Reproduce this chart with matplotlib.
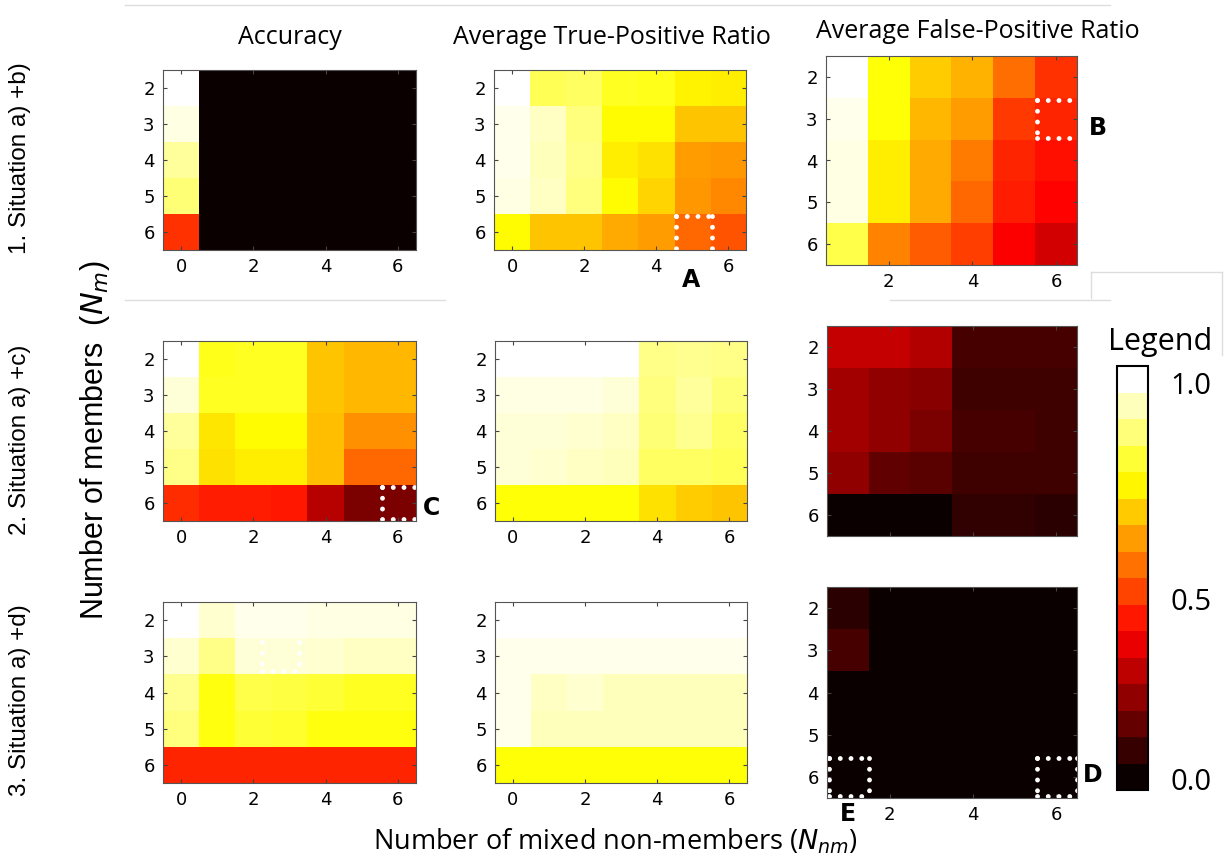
import numpy as np
import matplotlib
matplotlib.use("Agg")
import matplotlib.pyplot as plt
from matplotlib.lines import Line2D
import matplotlib.cm as cm
from matplotlib.colors import Normalize

# axis values
members = [2, 3, 4, 5, 6]
nonmembers = [0, 1, 2, 3, 4, 5, 6]
nonmembers_fp = [1, 2, 3, 4, 5, 6]

col_titles = ["Accuracy", "Average True-Positive Ratio", "Average False-Positive Ratio"]
row_titles = ["1. Situation a) +b)", "2. Situation a) +c)", "3. Situation a) +d)"]

# situation 1
acc_1 = [[1.00, 0, 0, 0, 0, 0, 0],
         [0.97, 0, 0, 0, 0, 0, 0],
         [0.90, 0, 0, 0, 0, 0, 0],
         [0.86, 0, 0, 0, 0, 0, 0],
         [0.44, 0, 0, 0, 0, 0, 0]]
tpr_1 = [[1.00, 0.83, 0.84, 0.78, 0.77, 0.73, 0.72],
         [0.98, 0.94, 0.87, 0.74, 0.74, 0.66, 0.66],
         [0.98, 0.93, 0.88, 0.72, 0.70, 0.60, 0.59],
         [0.97, 0.94, 0.87, 0.74, 0.68, 0.59, 0.57],
         [0.74, 0.66, 0.66, 0.62, 0.60, 0.52, 0.49]]
fpr_1 = [[1.00, 0.75, 0.67, 0.63, 0.53, 0.44],
         [0.98, 0.75, 0.64, 0.60, 0.45, 0.42],
         [0.97, 0.72, 0.62, 0.55, 0.42, 0.39],
         [0.97, 0.72, 0.62, 0.52, 0.41, 0.37],
         [0.82, 0.56, 0.50, 0.46, 0.36, 0.30]]

# situation 2
acc_2 = [[1.00, 0.77, 0.78, 0.78, 0.66, 0.64, 0.64],
         [0.96, 0.78, 0.78, 0.78, 0.66, 0.64, 0.64],
         [0.90, 0.71, 0.74, 0.74, 0.65, 0.58, 0.58],
         [0.88, 0.70, 0.72, 0.72, 0.65, 0.52, 0.52],
         [0.43, 0.41, 0.41, 0.40, 0.26, 0.17, 0.17]]
tpr_2 = [[1.00, 1.00, 1.00, 1.00, 0.88, 0.89, 0.88],
         [0.97, 0.97, 0.97, 0.96, 0.87, 0.90, 0.86],
         [0.96, 0.96, 0.95, 0.94, 0.86, 0.89, 0.84],
         [0.96, 0.95, 0.94, 0.93, 0.84, 0.84, 0.83],
         [0.75, 0.75, 0.75, 0.75, 0.70, 0.67, 0.66]]
fpr_2 = [[0.28, 0.28, 0.25, 0.09, 0.09, 0.09],
         [0.23, 0.20, 0.19, 0.08, 0.08, 0.08],
         [0.23, 0.20, 0.17, 0.09, 0.09, 0.08],
         [0.20, 0.13, 0.12, 0.08, 0.08, 0.08],
         [0.00, 0.00, 0.00, 0.06, 0.06, 0.05]]

# situation 3
acc_3 = [[1.00, 0.95, 0.98, 0.98, 0.97, 0.97, 0.97],
         [0.95, 0.88, 0.96, 0.96, 0.95, 0.94, 0.94],
         [0.89, 0.76, 0.82, 0.81, 0.80, 0.78, 0.78],
         [0.87, 0.76, 0.80, 0.79, 0.76, 0.76, 0.76],
         [0.42, 0.42, 0.42, 0.42, 0.42, 0.42, 0.42]]
tpr_3 = [[1.00, 1.00, 1.00, 1.00, 1.00, 1.00, 1.00],
         [0.98, 0.98, 0.98, 0.98, 0.98, 0.98, 0.98],
         [0.98, 0.94, 0.95, 0.93, 0.93, 0.93, 0.93],
         [0.98, 0.93, 0.93, 0.93, 0.93, 0.93, 0.93],
         [0.75, 0.75, 0.75, 0.75, 0.75, 0.75, 0.75]]
fpr_3 = [[0.05, 0, 0, 0, 0, 0],
         [0.09, 0, 0, 0, 0, 0],
         [0.00, 0, 0, 0, 0, 0],
         [0.00, 0, 0, 0, 0, 0],
         [0.00, 0, 0, 0, 0, 0]]

grid = [[acc_1, tpr_1, fpr_1],
        [acc_2, tpr_2, fpr_2],
        [acc_3, tpr_3, fpr_3]]

W, H = 1228, 867
fig = plt.figure(figsize=(W / 100, H / 100), dpi=100)

# pixel boxes (left, top, right, bottom) of each panel
boxes = [[(163, 70, 416, 250), (494, 70, 746, 250), (826, 56, 1077, 265)],
         [(163, 341, 416, 521), (495, 341, 747, 521), (827, 326, 1077, 536)],
         [(163, 602, 416, 783), (495, 602, 747, 783), (827, 587, 1077, 798)]]

def px_axes(l, t, r, b):
    return fig.add_axes([l / W, 1 - b / H, (r - l) / W, (b - t) / H])

axes = {}
for i in range(3):
    for j in range(3):
        ax = px_axes(*boxes[i][j])
        data = np.array(grid[i][j])
        xs = nonmembers if j < 2 else nonmembers_fp
        ax.imshow(data, cmap="hot", vmin=0, vmax=1, aspect="auto",
                  interpolation="nearest",
                  extent=(xs[0] - 0.5, xs[-1] + 0.5, members[-1] + 0.5, members[0] - 0.5))
        ax.set_yticks(members)
        if j < 2:
            ax.set_xticks([0, 2, 4, 6])
        else:
            ax.set_xticks([2, 4, 6])
        if i == 1 and j == 2:
            ax.set_xticklabels([])
        ax.tick_params(direction="in", top=True, right=True, length=3,
                       labelsize=13, color="#444444", pad=6)
        for s in ax.spines.values():
            s.set_color("#555555")
            s.set_linewidth(0.8)
        axes[(i, j)] = ax

# column titles
for j, (x, y) in enumerate([(290, 38), (612, 38), (978, 32)]):
    fig.text(x / W, 1 - y / H, col_titles[j], ha="center", va="center",
             fontsize=18, family="Open Sans")

# row titles
for i, y in enumerate([158, 440, 700]):
    fig.text(20 / W, 1 - y / H, row_titles[i], rotation=90, ha="center", va="center",
             fontsize=17.5, family="Liberation Sans")

fig.text(95 / W, 1 - 440 / H, r"Number of members  ($N_m$)", rotation=90,
         ha="center", va="center", fontsize=22, family="Liberation Sans")
fig.text(615 / W, 1 - 842 / H, r"Number of mixed non-members ($N_{nm}$)",
         ha="center", va="center", fontsize=19.5, family="Open Sans")

# dotted highlight boxes
def dotted_box(ax, x0, y0, x1, y1, sides="lrtb"):
    kw = dict(color="white", linewidth=3.5, linestyle=(0, (0.01, 2.2)),
              dash_capstyle="round", solid_capstyle="round", clip_on=False)
    if "l" in sides:
        ax.plot([x0, x0], [y0, y1], **kw)
    if "r" in sides:
        ax.plot([x1, x1], [y0, y1], **kw)
    if "t" in sides:
        ax.plot([x0, x1], [y0, y0], **kw)
    if "b" in sides:
        ax.plot([x0, x1], [y1, y1], **kw)

dotted_box(axes[(0, 1)], 4.55, 5.55, 5.55, 6.5, "lrt")
dotted_box(axes[(0, 2)], 5.55, 2.55, 6.5, 3.45, "ltb")
dotted_box(axes[(1, 0)], 5.55, 5.55, 6.5, 6.45, "ltb")
dotted_box(axes[(2, 0)], 2.25, 2.6, 3.25, 3.4, "lrb")
dotted_box(axes[(2, 2)], 0.55, 5.55, 1.5, 6.45)
dotted_box(axes[(2, 2)], 5.55, 5.55, 6.5, 6.45)

# letters
for s, x, y in [("A", 691, 280), ("B", 1098, 128), ("C", 432, 508),
                ("D", 1093, 775), ("E", 848, 814)]:
    fig.text(x / W, 1 - y / H, s, ha="center", va="center", fontsize=17,
             fontweight="bold", family="DejaVu Sans")

# legend colour bar
cax = px_axes(1117, 366, 1148, 790)
sm = cm.ScalarMappable(norm=Normalize(0, 1), cmap=plt.get_cmap("hot").resampled(16))
cb = fig.colorbar(sm, cax=cax, ticks=[0.025, 0.45, 0.96])
cb.ax.set_yticklabels(["0.0", "0.5", "1.0"])
cb.ax.tick_params(length=0, labelsize=21, pad=16)
for t in cb.ax.get_yticklabels():
    t.set_family("Open Sans")
cb.outline.set_linewidth(1.5)
fig.text(1160 / W, 1 - 342 / H, "Legend", ha="center", va="center", fontsize=22,
         family="Open Sans")

# faint frame lines from the original layout
line_kw = dict(color="#dddddd", linewidth=1, transform=fig.transFigure)
for xs, ys in [([125, 1110], [5, 5]), ([125, 445], [300, 300]),
               ([890, 1110], [300, 300]), ([1091, 1222], [272, 272]),
               ([1222, 1222], [272, 355]), ([1091, 1091], [272, 298])]:
    fig.add_artist(Line2D([x / W for x in xs], [1 - y / H for y in ys], **line_kw))

fig.savefig("out.png", dpi=100)
